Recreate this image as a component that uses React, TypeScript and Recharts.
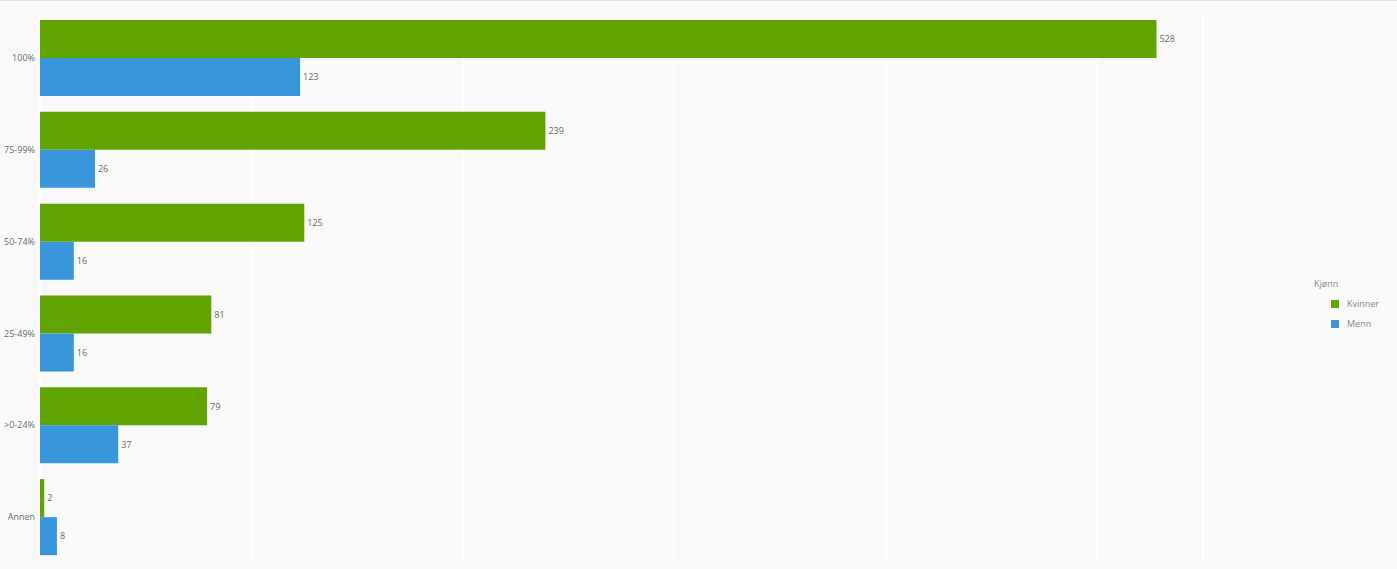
import { BarChart, Bar, XAxis, YAxis, CartesianGrid, Legend, LabelList } from 'recharts';

const categories = ['100%', '75-99%', '50-74%', '25-49%', '>0-24%', 'Annen'];
const kvinner = [528, 239, 125, 81, 79, 2];
const menn = [123, 26, 16, 16, 37, 8];
const xTicks = [0, 100, 200, 300, 400, 500];

const GREEN = '#5fa400';
const BLUE = '#3a96db';
const FONT = '"Open Sans", "Noto Sans", sans-serif';

const data = categories.map((name, i) => ({ name, Kvinner: kvinner[i], Menn: menn[i] }));

function LegendBox() {
  const items = [
    { label: 'Kvinner', color: GREEN },
    { label: 'Menn', color: BLUE },
  ];
  return (
    <div style={{ fontFamily: FONT, fontSize: 9, color: '#8a8a8a', lineHeight: '20px' }}>
      <div style={{ marginLeft: -17 }}>Kjønn</div>
      {items.map(it => (
        <div key={it.label} style={{ display: 'flex', alignItems: 'center' }}>
          <span style={{ width: 8, height: 8, background: it.color, display: 'inline-block', marginRight: 8 }} />
          {it.label}
        </div>
      ))}
    </div>
  );
}

export default function App() {
  return (
    <div style={{ position: 'absolute', left: 0, top: 0, width: 1397, height: 569, background: '#f9f9f9', borderTop: '1px solid #e4e4e4', boxSizing: 'border-box' }}>
      <BarChart
        width={1397}
        height={568}
        data={data}
        layout="vertical"
        margin={{ top: 11, right: 134, bottom: 6, left: 0 }}
        barCategoryGap={8}
        barGap={0}
      >
        <CartesianGrid horizontal={false} stroke="#ffffff" strokeWidth={1.5} />
        <XAxis type="number" domain={[0, 550]} ticks={xTicks} hide />
        <YAxis
          type="category"
          dataKey="name"
          width={40}
          tickLine={false}
          axisLine={false}
          tickSize={0}
          tickMargin={5}
          tick={{ fontSize: 9, fill: '#6a6a6a', fontFamily: FONT }}
        />
        <Legend
          layout="vertical"
          align="right"
          verticalAlign="middle"
          wrapperStyle={{ left: 1331, top: 273, width: 60 }}
          content={() => <LegendBox />}
        />
        <Bar dataKey="Kvinner" fill={GREEN} isAnimationActive={false}>
          <LabelList dataKey="Kvinner" position="right" offset={3} style={{ fontSize: 9, fill: '#6a6a6a', fontFamily: FONT }} />
        </Bar>
        <Bar dataKey="Menn" fill={BLUE} isAnimationActive={false}>
          <LabelList dataKey="Menn" position="right" offset={3} style={{ fontSize: 9, fill: '#6a6a6a', fontFamily: FONT }} />
        </Bar>
      </BarChart>
    </div>
  );
}
